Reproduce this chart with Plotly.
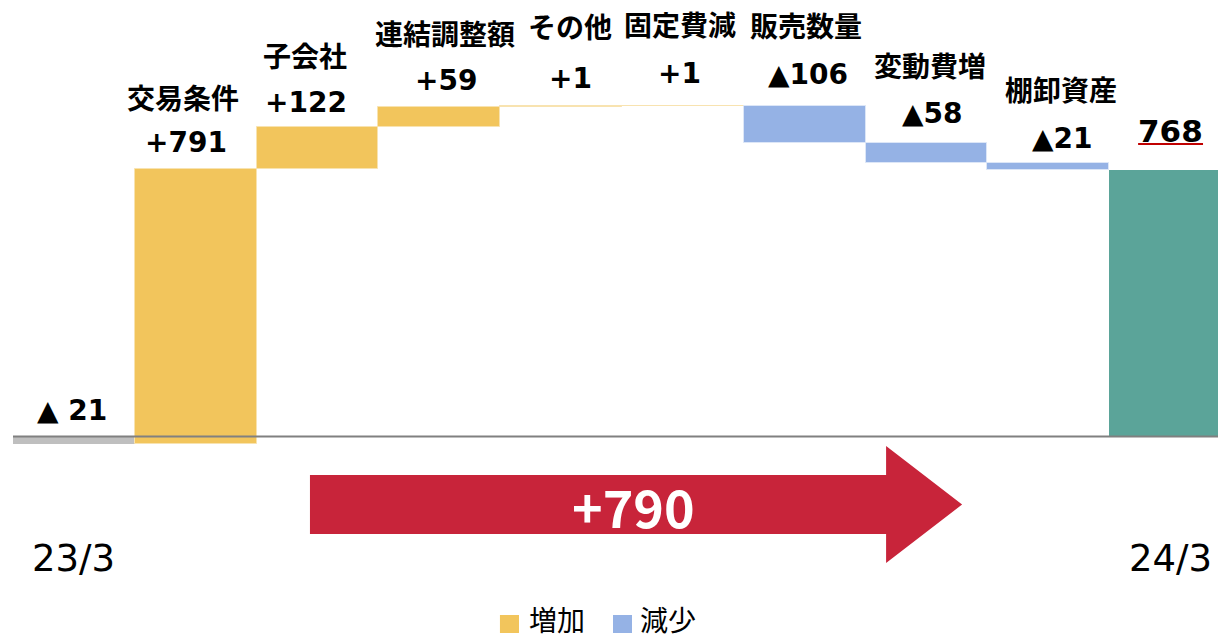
import plotly.graph_objects as go

# ---- data ----
start_label = "23/3"
end_label = "24/3"
start_value = -21
categories = ["交易条件", "子会社", "連結調整額", "その他", "固定費減", "販売数量", "変動費増", "棚卸資産"]
deltas = [791, 122, 59, 1, 1, -106, -58, -21]
delta_text = ["+791", "+122", "+59", "+1", "+1", "▲106", "▲58", "▲21"]
start_text = "▲ 21"
end_value = 768
total_change = 790
legend_names = ["増加", "減少"]

# ---- styles ----
C_UP = "#F2C55C"
C_DOWN = "#95B2E5"
C_END = "#5BA499"
C_START = "#BFBFBF"
C_ARROW = "#C8243A"
JP = "Noto Sans CJK JP"
NUM = "DejaVu Sans, Noto Sans CJK JP"
value_yshift = [27, 24, 26, 27.5, 32, 31, 29, 24.5]
name_yshift = [72.5, 72, 74, 80, 82, 81, 78, 74]
value_xshift = [-9.5, -11.5, 6.5, 9, -3, 3.5, 5.5, 14.5]
name_xshift = [-12.5, -13, 6, 9, -3, 1.5, 3, 13]

n = len(categories)
xs = list(range(1, n + 1))
bases = []
cum = start_value
for d in deltas:
    bases.append(cum)
    cum += d

fig = go.Figure()
fig.add_trace(go.Bar(x=[0], y=[start_value], base=[0], marker=dict(color=C_START, line=dict(width=0)),
                     showlegend=False, hoverinfo="skip"))
up_idx = [i for i, d in enumerate(deltas) if d > 0]
dn_idx = [i for i, d in enumerate(deltas) if d < 0]
fig.add_trace(go.Bar(x=[xs[i] for i in up_idx], y=[deltas[i] for i in up_idx], base=[bases[i] for i in up_idx],
                     marker=dict(color=C_UP, line=dict(color="#F8E3B0", width=1)), name=legend_names[0],
                     showlegend=False))
fig.add_trace(go.Bar(x=[xs[i] for i in dn_idx], y=[deltas[i] for i in dn_idx], base=[bases[i] for i in dn_idx],
                     marker=dict(color=C_DOWN, line=dict(color="#DCE6F7", width=1)), name=legend_names[1],
                     showlegend=False))
fig.add_trace(go.Bar(x=[n + 1], y=[end_value], base=[0], marker=dict(color=C_END, line=dict(width=0)),
                     showlegend=False, hoverinfo="skip"))

ann = []
ann.append(dict(x=0, y=max(0, start_value), text="<b>" + start_text + "</b>", yshift=26, xshift=-2,
                showarrow=False, font=dict(family=NUM, size=28, color="black"), yanchor="middle"))
for i, d in enumerate(deltas):
    top = max(bases[i], bases[i] + d)
    ann.append(dict(x=xs[i], y=top, text="<b>" + delta_text[i] + "</b>", yshift=value_yshift[i],
                    xshift=value_xshift[i], showarrow=False,
                    font=dict(family=NUM, size=28, color="black"), yanchor="middle"))
    ann.append(dict(x=xs[i], y=top, text="<b>" + categories[i] + "</b>", yshift=name_yshift[i],
                    xshift=name_xshift[i], showarrow=False,
                    font=dict(family=JP, size=28, color="black"), yanchor="middle"))
ann.append(dict(x=n + 1, y=end_value, text="<b>" + str(end_value) + "</b>", yshift=39.5, showarrow=False,
                font=dict(family=NUM, size=31, color="black"), yanchor="middle"))
ann.append(dict(x=0, y=-351.6, text=start_label, showarrow=False, font=dict(family="DejaVu Sans", size=37, color="black")))
ann.append(dict(x=n + 1, y=-351.6, text=end_label, showarrow=False, font=dict(family="DejaVu Sans", size=37, color="black")))
ann.append(dict(x=4.594, y=-197.4, text="<b>+%d</b>" % total_change, showarrow=False,
                font=dict(family=JP, size=52, color="white")))
# legend (manual)
ann.append(dict(xref="paper", yref="paper", x=0.4266, y=0.0, xanchor="left", yanchor="bottom",
                text=legend_names[0], showarrow=False, font=dict(family=JP, size=28, color="black")))
ann.append(dict(xref="paper", yref="paper", x=0.5187, y=0.0, xanchor="left", yanchor="bottom",
                text=legend_names[1], showarrow=False, font=dict(family=JP, size=28, color="black")))

shapes = [
    dict(type="line", xref="paper", x0=0, x1=1, yref="y", y0=0, y1=0, line=dict(color="#808080", width=2), layer="above"),
    dict(type="path", xref="x", yref="y",
         path="M 1.938,-111 L 6.668,-111 L 6.668,-27.4 L 7.292,-196 L 6.668,-364.6 L 6.668,-281 L 1.938,-281 Z",
         fillcolor=C_ARROW, line=dict(width=0), layer="below"),
    dict(type="line", xref="x", yref="y", x0=8.737, x1=9.27, y0=843, y1=843, line=dict(color="#C00000", width=2)),
    dict(type="rect", xref="paper", yref="paper", x0=0.4041, x1=0.4199, y0=0.0125, y1=0.0406,
         fillcolor=C_UP, line=dict(width=0)),
    dict(type="rect", xref="paper", yref="paper", x0=0.4979, x1=0.5137, y0=0.0125, y1=0.0406,
         fillcolor=C_DOWN, line=dict(width=0)),
]

fig.update_layout(
    width=1218, height=641,
    margin=dict(l=13, r=0, t=0, b=0),
    plot_bgcolor="white", paper_bgcolor="white",
    barmode="overlay", bargap=0,
    xaxis=dict(range=[-0.5, 9.393], visible=False, fixedrange=True),
    yaxis=dict(range=[-589.3, 1257.9], visible=False, fixedrange=True),
    annotations=ann, shapes=shapes,
    showlegend=False,
    font=dict(family=JP),
)

fig.write_html("out.html", config={"displayModeBar": False},
               post_script="document.body.style.margin='0';document.body.style.overflow='hidden';")
